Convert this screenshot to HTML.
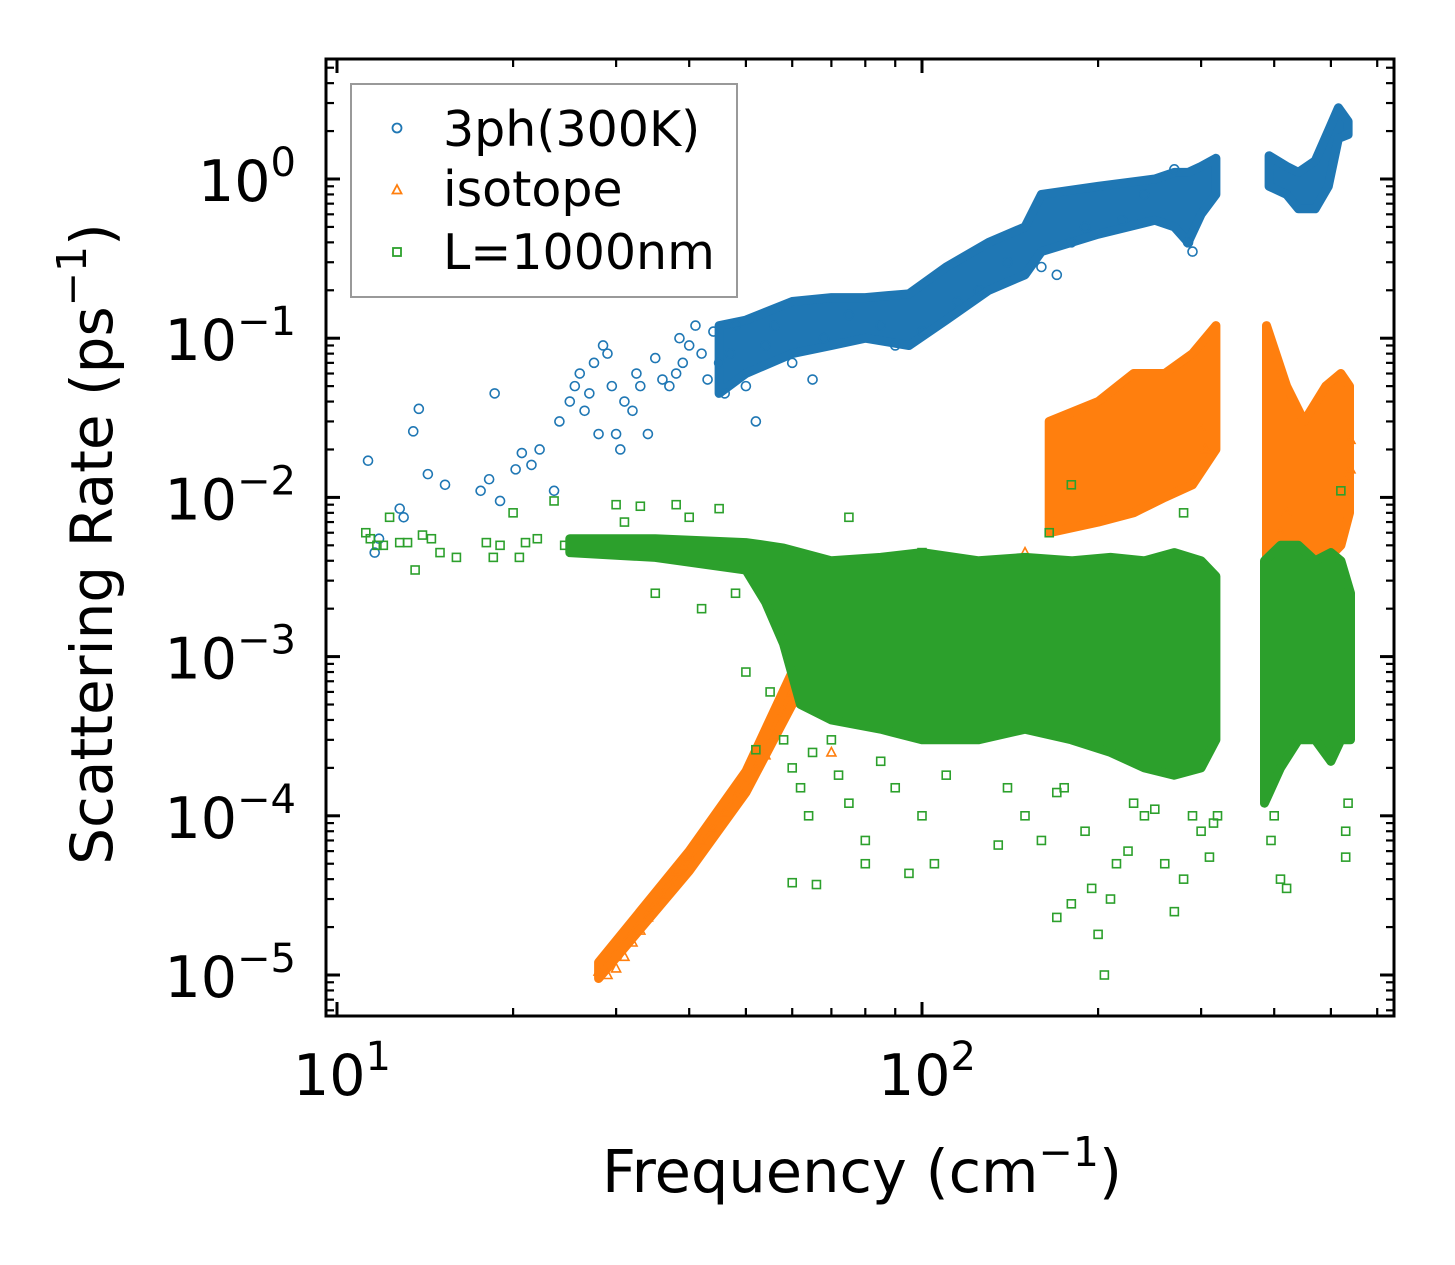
<!DOCTYPE html>
<html><head><meta charset="utf-8"><style>
html,body{margin:0;padding:0;background:#fff;}
svg{display:block;font-family:"DejaVu Sans","Liberation Sans",sans-serif;}
</style></head><body>
<svg id="chart" width="1455" height="1265" viewBox="0 0 1455 1265" xmlns="http://www.w3.org/2000/svg">
<rect width="1455" height="1265" fill="#fff"/>
<g id="bands"></g>
<g id="marks"></g>
<g id="axes"></g>
</svg>
<script>
// ---- data ----
const blueBand = [[45,0.045,0.12],[50,0.06,0.13],[60,0.08,0.17],[70,0.09,0.18],[80,0.1,0.18],[95,0.09,0.19],[110,0.13,0.28],[130,0.2,0.4],[150,0.25,0.5],[160,0.35,0.8],[200,0.45,0.9],[250,0.55,1.0],[270,0.5,1.1],[285,0.4,1.1],[300,0.6,1.2],[318,0.8,1.35]];
const blueBand2 = [[392,0.9,1.4],[420,0.8,1.2],[440,0.65,1.1],[470,0.65,1.3],[495,0.9,2.0],[515,1.8,2.8],[535,1.9,2.3]];
const orangeBand = [[28,0.0000095,0.000012],[40,0.000045,0.00006],[50,0.00014,0.00019],[60,0.0005,0.0008],[70,0.0008,0.002]];
const orangeBand2 = [[165,0.006,0.03],[200,0.007,0.04],[230,0.008,0.06],[260,0.01,0.06],[290,0.012,0.08],[318,0.02,0.12]];
const orangeBand3 = [[388,0.004,0.12],[420,0.005,0.05],[450,0.004,0.03],[490,0.004,0.05],[520,0.005,0.06],[538,0.008,0.05]];
const greenBand = [[25,0.0045,0.0055],[35,0.0042,0.0055],[50,0.0035,0.0052],[54,0.0022,0.005],[58,0.0012,0.0048],[62,0.0005,0.0045],[70,0.0004,0.004],[85,0.00035,0.0042],[100,0.0003,0.0045],[125,0.0003,0.004],[150,0.00035,0.0042],[180,0.0003,0.004],[210,0.00025,0.0042],[240,0.0002,0.004],[270,0.00018,0.0045],[300,0.0002,0.004],[318,0.0003,0.0032]];
const greenBand2 = [[385,0.00012,0.004],[410,0.0002,0.005],[440,0.0003,0.005],[470,0.0003,0.004],[500,0.00022,0.0045],[520,0.0003,0.004],[540,0.0003,0.0025]];
const blueFreq = [11.3,11.6,11.8,12.8,13,13.5,13.8,14.3,15.3,17.6,18.2,18.6,19,20.2,20.7,21.5,22.2,23.5,24,25,25.5,26,26.5,27,27.5,28,28.5,29,29.5,30,30.5,31,32,32.5,33,34,35,36,37,38,38.5,39,40,41,42,43,44,45,46,47,48,50,52,54,56,60,65,68,75,85,90,100,115,125,140,160,170,180,190,220,240,270,285,290];
const blueRate = [0.017,0.0045,0.0055,0.0085,0.0075,0.026,0.036,0.014,0.012,0.011,0.013,0.045,0.0095,0.015,0.019,0.016,0.02,0.011,0.03,0.04,0.05,0.06,0.035,0.045,0.07,0.025,0.09,0.08,0.05,0.025,0.02,0.04,0.035,0.06,0.05,0.025,0.075,0.055,0.05,0.06,0.1,0.07,0.09,0.12,0.08,0.055,0.11,0.07,0.045,0.08,0.12,0.05,0.03,0.09,0.12,0.07,0.055,0.1,0.14,0.12,0.09,0.11,0.17,0.2,0.3,0.28,0.25,0.4,0.5,0.55,0.8,1.15,0.4,0.35];
const orangeFreq = [28,29,30,31,32,33,34,35,36,37,38,39,40,42,44,46,48,50,52,54,56,58,60,62,65,70,75,140,150,300,305,540,540,530,420,410];
const orangeRate = [0.0000105,0.00001,0.000011,0.000013,0.000016,0.000019,0.000023,0.000028,0.000032,0.000038,0.000045,0.000049,0.000056,0.00007,0.000085,0.000105,0.00013,0.00016,0.0002,0.00024,0.00032,0.00045,0.0006,0.0008,0.0006,0.00025,0.0026,0.0035,0.0045,0.027,0.02,0.023,0.015,0.013,0.008,0.006];
const greenFreq = [11.2,11.4,11.7,12,12.3,12.8,13.2,13.6,14,14.5,15,16,18,18.5,19,20,20.5,21,22,23.5,24.5,30,31,33,35,38,40,42,45,48,50,52,55,58,60,62,64,66,70,75,80,80,90,95,100,105,115,125,135,150,160,170,175,180,190,195,200,205,210,215,225,240,260,270,280,300,310,320,180,165,280,410,420,520,530,535,100,75,60,65,72,85,110,140,170,230,250,290,315,395,400,530];
const greenRate = [0.006,0.0055,0.005,0.005,0.0075,0.0052,0.0052,0.0035,0.0058,0.0055,0.0045,0.0042,0.0052,0.0042,0.005,0.008,0.0042,0.0052,0.0055,0.0095,0.005,0.009,0.007,0.0088,0.0025,0.009,0.0075,0.002,0.0085,0.0025,0.0008,0.00026,0.0006,0.0003,0.000038,0.00015,0.0001,0.000037,0.0003,0.00012,0.00007,0.00005,0.00015,0.0000435,0.0001,0.00005,0.0006,0.0004,0.0000655,0.0001,0.00007,0.000023,0.00015,0.000028,0.00008,0.000035,0.000018,0.00001,0.00003,0.00005,0.00006,0.0001,0.00005,0.000025,0.00004,0.00008,0.000055,0.0001,0.012,0.006,0.008,0.00004,0.000035,0.011,0.000055,0.00012,0.0045,0.0075,0.0002,0.00025,0.00018,0.00022,0.00018,0.00015,0.00014,0.00012,0.00011,0.0001,0.00009,0.00007,0.0001,0.00008];
const yTickExp = [0,-1,-2,-3,-4,-5];
const xTickExp = [1,2];

// ---- axes functions ----
const L=326,R=1394,T=59,B=1016;
const X = f => 337 + 585*(Math.log10(f)-1);
const Y = v => 179 - 159.2*Math.log10(v);
const NS='http://www.w3.org/2000/svg';
function mk(tag, attrs, parent){const e=document.createElementNS(NS,tag);for(const k in attrs)e.setAttribute(k,attrs[k]);parent.appendChild(e);return e;}
const bands=document.getElementById('bands'), marks=document.getElementById('marks'), axes=document.getElementById('axes');
const C={b:'#1f77b4',o:'#ff7f0e',g:'#2ca02c'};

function bandTo(arr,color,name,par){
  const top=arr.map(d=>X(d[0]).toFixed(1)+','+Y(d[2]).toFixed(1));
  const bot=arr.slice().reverse().map(d=>X(d[0]).toFixed(1)+','+Y(d[1]).toFixed(1));
  const p=mk('polygon',{points:top.concat(bot).join(' '),fill:color,stroke:color,'stroke-width':9,'stroke-linejoin':'round'},par);
  
  
}
function circ(cx,cy,par){return mk('circle',{cx:cx,cy:cy,r:4.5,fill:'none',stroke:C.b,'stroke-width':1.6},par);}
function tri(cx,cy,par){return mk('polygon',{points:`${cx},${cy-5} ${cx-4.5},${cy+3.5} ${cx+4.5},${cy+3.5}`,fill:'none',stroke:C.o,'stroke-width':1.6},par);}
function sq(cx,cy,par){return mk('rect',{x:cx-4,y:cy-4,width:8,height:8,fill:'none',stroke:C.g,'stroke-width':1.6},par);}

bandTo(blueBand,C.b,'3ph-dense-band',bands);
bandTo(blueBand2,C.b,'3ph-dense-band-high',bands);
blueFreq.forEach((f,i)=>{const e=circ(X(f),Y(blueRate[i]),marks);

});
bandTo(orangeBand,C.o,'isotope-low-band',bands);
bandTo(orangeBand2,C.o,'isotope-band-mid',bands);
bandTo(orangeBand3,C.o,'isotope-band-high',bands);
orangeFreq.forEach((f,i)=>{const e=tri(X(f),Y(orangeRate[i]),marks);

});
const gb=document.createElementNS(NS,'g');marks.appendChild(gb);
bandTo(greenBand,C.g,'boundary-dense-band',gb);
bandTo(greenBand2,C.g,'boundary-dense-band-high',gb);
greenFreq.forEach((f,i)=>{const e=sq(X(f),Y(greenRate[i]),gb);

});

// frame
const fr=mk('rect',{x:L,y:T,width:R-L,height:B-T,fill:'none',stroke:'#000','stroke-width':3},axes);


for(let e=-6;e<=1;e++){
  for(let m=1;m<10;m++){
    const y=Y(m*Math.pow(10,e)); if(y<T+1||y>B-1) continue;
    const len=m===1?14:8, w=m===1?3:2.2;
    mk('line',{x1:L,y1:y,x2:L+len,y2:y,stroke:'#000','stroke-width':w},axes);
    mk('line',{x1:R,y1:y,x2:R-len,y2:y,stroke:'#000','stroke-width':w},axes);
  }
}
for(let e=0;e<=2;e++){
  for(let m=1;m<10;m++){
    const x=X(m*Math.pow(10,e)); if(x<L+3||x>R-1) continue;
    const len=m===1?14:8, w=m===1?3:2.2;
    mk('line',{x1:x,y1:B,x2:x,y2:B-len,stroke:'#000','stroke-width':w},axes);
    mk('line',{x1:x,y1:T,x2:x,y2:T+len,stroke:'#000','stroke-width':w},axes);
  }
}
yTickExp.forEach(e=>{
  const t=mk('text',{x:296,y:Y(Math.pow(10,e))+22,'text-anchor':'end','font-size':57,fill:'#000'},axes);
  
  
  t.appendChild(document.createTextNode('10'));
  const s=mk('tspan',{dy:-25,'font-size':40},t); s.textContent=(e<0?'\u2212'+(-e):''+e);
});
xTickExp.forEach(e=>{
  const t=mk('text',{x:X(Math.pow(10,e))+5,y:1095,'text-anchor':'middle','font-size':57,fill:'#000'},axes);
  
  
  t.appendChild(document.createTextNode('10'));
  const s=mk('tspan',{dy:-25,'font-size':40},t); s.textContent=''+e;
});
</script>
<svg style="position:absolute;left:0;top:0" width="1455" height="1265" xmlns="http://www.w3.org/2000/svg">
<text x="862" y="1192" text-anchor="middle" font-size="59" font-family="DejaVu Sans, Liberation Sans, sans-serif">Frequency (cm<tspan dy="-26" font-size="41">−1</tspan><tspan dy="26">)</tspan></text>
<text transform="translate(112,544) rotate(-90)" text-anchor="middle" font-size="58" font-family="DejaVu Sans, Liberation Sans, sans-serif">Scattering Rate (ps<tspan dy="-26" font-size="41">−1</tspan><tspan dy="26">)</tspan></text>
<g>
<rect x="351" y="84" width="386" height="213" fill="#fff" fill-opacity="0.8" stroke="#999" stroke-width="2"/>
<circle cx="397" cy="128" r="4.5" fill="none" stroke="#1f77b4" stroke-width="1.8"/>
<text x="443" y="146" font-size="49" font-family="DejaVu Sans, Liberation Sans, sans-serif">3ph(300K)</text>
<polygon points="397,185 392.5,193.5 401.5,193.5" fill="none" stroke="#ff7f0e" stroke-width="1.8"/>
<text x="443" y="206" font-size="49" font-family="DejaVu Sans, Liberation Sans, sans-serif">isotope</text>
<rect x="393" y="248" width="8" height="8" fill="none" stroke="#2ca02c" stroke-width="1.8"/>
<text x="443" y="269" font-size="49" font-family="DejaVu Sans, Liberation Sans, sans-serif">L=1000nm</text>
</g>
</svg>
</body></html>
